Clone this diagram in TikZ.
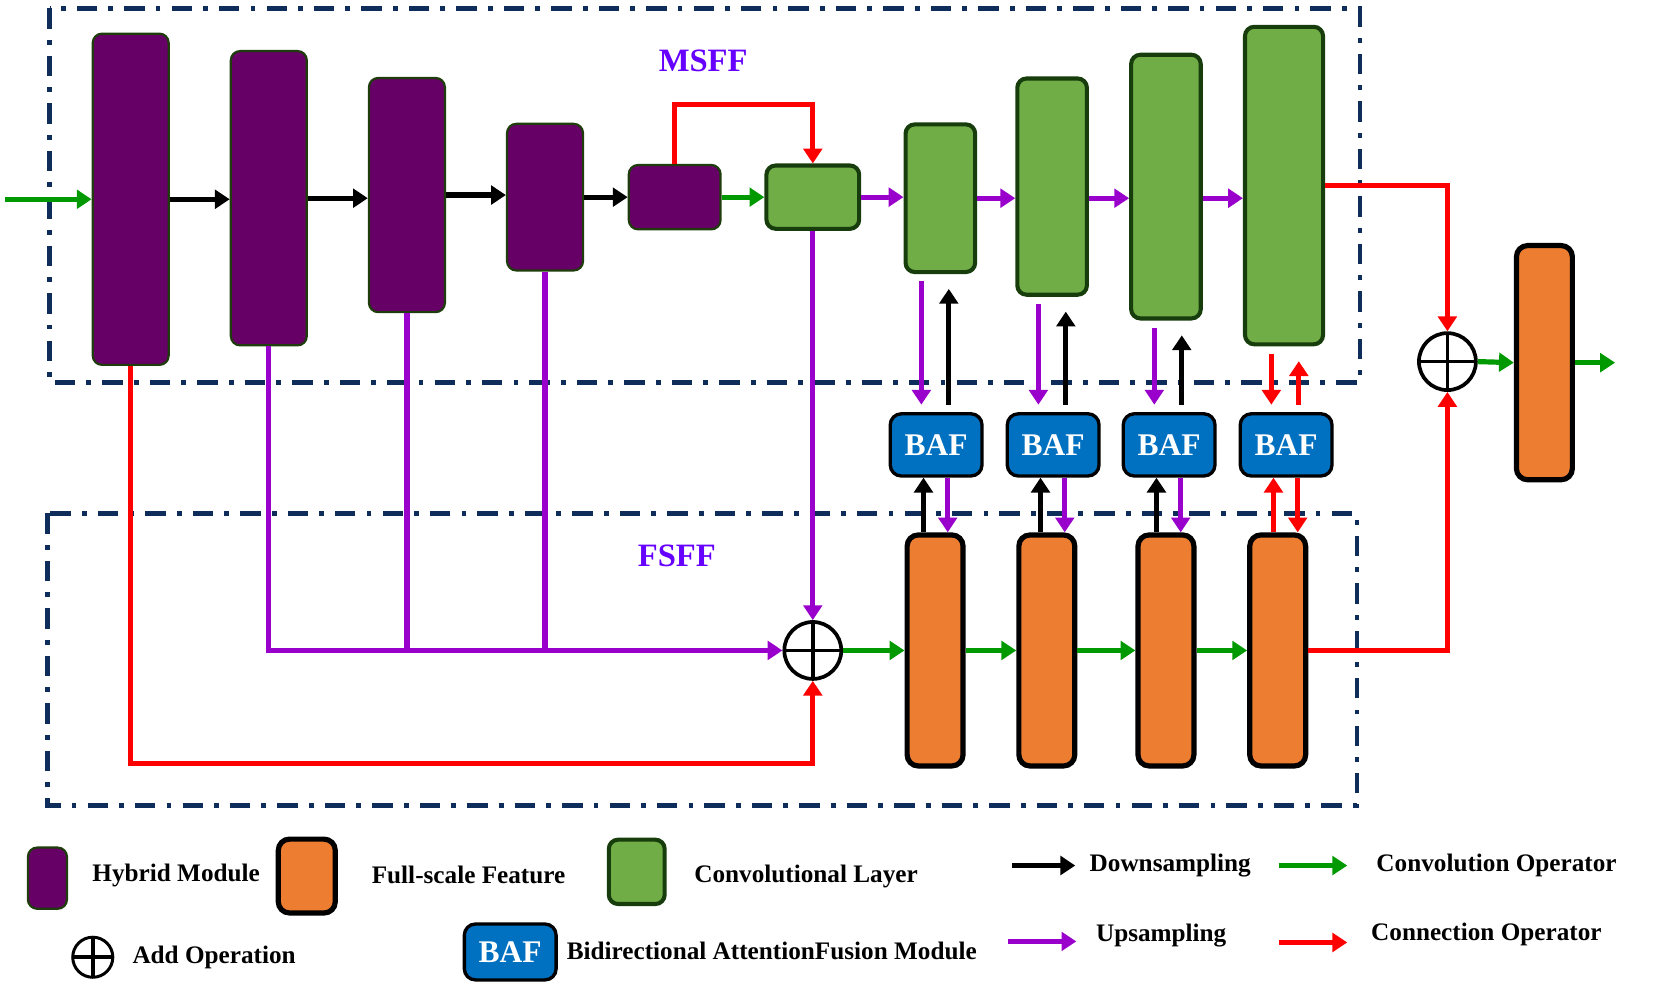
\documentclass[tikz,border=0pt]{standalone}
\usepackage{fontspec}
\setmainfont{Liberation Serif}
\usepackage{xcolor}
\usepackage{tikz}
\usetikzlibrary{arrows.meta,positioning}

\definecolor{hybfill}{HTML}{660066}
\definecolor{hybline}{HTML}{1F3D0C}
\definecolor{convfill}{HTML}{70AD47}
\definecolor{convline}{HTML}{173D0C}
\definecolor{fullfill}{HTML}{ED7D31}
\definecolor{baffill}{HTML}{0070C0}
\definecolor{grpline}{HTML}{0F2D5A}
\definecolor{titlecol}{HTML}{6600FF}
\definecolor{arrgreen}{HTML}{009900}
\definecolor{arrpurple}{HTML}{9900CC}
\definecolor{arrred}{HTML}{FF0000}

\begin{document}
\begin{tikzpicture}[
    x=0.01cm, y=-0.01cm, % pixel grid of the drawing
    grp/.style={draw=grpline,line width=1.2pt,dash pattern=on 5.5pt off 3pt on 1.3pt off 3pt},
    title/.style={text=titlecol,font=\fontsize{8.8}{10}\selectfont\bfseries,inner sep=0pt},
    hybbox/.style={draw=hybline,fill=hybfill,rounded corners=2.5pt,line width=0.6pt,minimum width=0.72cm},
    convbox/.style={draw=convline,fill=convfill,rounded corners=2.5pt,line width=1.1pt,minimum width=0.66cm},
    fullbox/.style={draw=black,fill=fullfill,rounded corners=3pt,line width=1.4pt,minimum width=0.53cm,minimum height=2.19cm},
    bafbox/.style={draw=black,fill=baffill,rounded corners=3pt,line width=0.9pt,minimum width=0.87cm,minimum height=0.59cm,inner sep=0pt,text=white,font=\fontsize{8.5}{10}\selectfont\bfseries},
    addop/.style={circle,draw,line width=1pt,minimum size=0.54cm,inner sep=0pt,
        path picture={\draw[line width=1pt] (path picture bounding box.north) -- (path picture bounding box.south)
            (path picture bounding box.west) -- (path picture bounding box.east);}},
    legtext/.style={anchor=west,inner sep=0pt,font=\fontsize{6.8}{8}\selectfont\bfseries},
    arr/.style={-{Triangle[length=4pt,width=5pt]},line width=1.4pt},
    kline/.style={arr,draw=black},
    gline/.style={arr,draw=arrgreen},
    purp/.style={arr,draw=arrpurple},
    rline/.style={arr,draw=arrred},
    plain/.style={line width=1.4pt,draw=arrpurple}
]
    \useasboundingbox (0,0) rectangle (1568,944);

    % MSFF and FSFF regions
    \draw[grp] (47,8) rectangle (1290,363);
    \draw[grp] (45,487) rectangle (1287,764);
    \node[title] (msff) at (667,58) {MSFF};
    \node[title] (fsff) at (642,527) {FSFF};

    % hybrid modules
    \node[hybbox, minimum height=3.14cm] (h1) at (124,189) {};
    \node[hybbox, minimum height=2.79cm] (h2) at (255,188) {};
    \node[hybbox, minimum height=2.22cm] (h3) at (386,185) {};
    \node[hybbox, minimum height=1.39cm] (h4) at (517,187) {};
    \node[hybbox, minimum width=0.87cm, minimum height=0.61cm] (h5) at (640,187) {};

    % convolutional layers
    \node[convbox, minimum width=0.88cm, minimum height=0.60cm] (c0) at (771,187) {};
    \node[convbox, minimum height=1.40cm] (c1) at (892,188) {};
    \node[convbox, minimum height=2.05cm] (c2) at (998,177) {};
    \node[convbox, minimum height=2.50cm] (c3) at (1106,177) {};
    \node[convbox, minimum width=0.74cm, minimum height=3.01cm] (c4) at (1218,176) {};

    % BAF modules and full-scale features
    \foreach \i/\x in {1/888,2/999,3/1109,4/1220}
        \node[bafbox] (b\i) at (\x,422) {BAF};
    \foreach \i/\x in {1/887,2/993,3/1106,4/1212}
        \node[fullbox] (o\i) at (\x,617) {};
    \node[fullbox, minimum height=2.22cm] (out) at (1465,344) {};

    % add operations
    \node[addop] (add1) at (771,617) {};
    \node[addop] (add2) at (1373,343) {};

    \coordinate (in) at (5,189);
    \coordinate (res) at (1532,344);

    % encoder path
    \draw[gline] (in) -- (h1.west);
    \draw[kline] (h1.east) -- (h1.east -| h2.west);
    \draw[kline] (h2.east) -- (h2.east -| h3.west);
    \draw[kline] (h3.east) -- (h3.east -| h4.west);
    \draw[kline] (h4.east) -- (h4.east -| h5.west);
    \draw[gline] (h5.east) -- (c0.west);
    \draw[rline] (h5.north) -- ++(0,-56) -| (c0.north);

    % decoder path
    \draw[purp] (c0.east) -- (c0.east -| c1.west);
    \draw[purp] (c1.east) -- (c1.east -| c2.west);
    \draw[purp] (c2.east |- c1.east) -- (c3.west |- c1.east);
    \draw[purp] (c3.east |- c1.east) -- (c4.west |- c1.east);

    % links through BAF
    \foreach \i/\ca/\cb in {1/purp/kline,2/purp/kline,3/purp/kline,4/rline/rline}{
        \draw[\ca, shorten <=2pt, shorten >=2pt] ([xshift=-0.14cm]b\i.north |- c\i.south) -- ([xshift=-0.14cm]b\i.north);
        \draw[\cb, shorten <=2pt, shorten >=4pt] ([xshift=0.12cm]b\i.north) -- ([xshift=0.12cm]b\i.north |- c\i.south);
        \draw[\cb] ([xshift=-0.12cm]b\i.south |- o\i.north) -- ([xshift=-0.12cm]b\i.south);
        \draw[\ca] ([xshift=0.11cm]b\i.south) -- ([xshift=0.11cm]b\i.south |- o\i.north);
    }

    % skip connections into FSFF
    \draw[plain] (h3.south) -- (h3.south |- add1);
    \draw[plain] (h4.south) -- (h4.south |- add1);
    \draw[purp] (h2.south) |- (add1.west);
    \draw[purp] (c0.south) -- (add1.north);
    \draw[rline] (h1.south) -- ++(0,377) -| (add1.south);

    % full-scale path
    \draw[gline] (add1.east) -- (o1.west);
    \draw[gline] (o1.east) -- (o2.west);
    \draw[gline] (o2.east) -- (o3.west);
    \draw[gline] (o3.east) -- (o4.west);

    % output
    \draw[rline] (c4.east) -| (add2.north);
    \draw[rline] (o4.east) -| (add2.south);
    \draw[gline] (add2.east) -- (out.west);
    \draw[gline] (out.east) -- (res);

    % legend
    \node[hybbox, minimum width=0.37cm, minimum height=0.58cm] (lhyb) at (45,833) {};
    \node[legtext] (thyb) at (87,830) {Hybrid Module};
    \node[fullbox, minimum width=0.54cm, minimum height=0.70cm] (lfull) at (291,831) {};
    \node[legtext] (tfull) at (352,830) {Full-scale Feature};
    \node[convbox, minimum width=0.53cm, minimum height=0.61cm] (lconv) at (604,827) {};
    \node[legtext] (tconv) at (658,831) {Convolutional Layer};
    \node[addop, minimum size=0.38cm, line width=0.8pt] (ladd) at (88,908) {};
    \node[legtext] (tadd) at (125,908) {Add Operation};
    \node[bafbox, minimum height=0.53cm] (lbaf) at (484,903) {BAF};
    \node[legtext] (tbaf) at (537,902) {Bidirectional AttentionFusion Module};
    \node[legtext] (tdown) at (1033,821) {Downsampling};
    \node[legtext] (tconvop) at (1305,821) {Convolution Operator};
    \node[legtext] (tup) at (1039,887) {Upsampling};
    \node[legtext] (tconn) at (1300,886) {Connection Operator};
    \draw[kline] ([xshift=-0.73cm]tdown.west) -- ([xshift=-0.13cm]tdown.west);
    \draw[gline] ([xshift=-0.92cm]tconvop.west) -- ([xshift=-0.27cm]tconvop.west);
    \draw[purp] ([xshift=-0.83cm,yshift=-0.06cm]tup.west) -- ([xshift=-0.18cm,yshift=-0.06cm]tup.west);
    \draw[rline] ([xshift=-0.87cm,yshift=-0.08cm]tconn.west) -- ([xshift=-0.22cm,yshift=-0.08cm]tconn.west);
\end{tikzpicture}
\end{document}
